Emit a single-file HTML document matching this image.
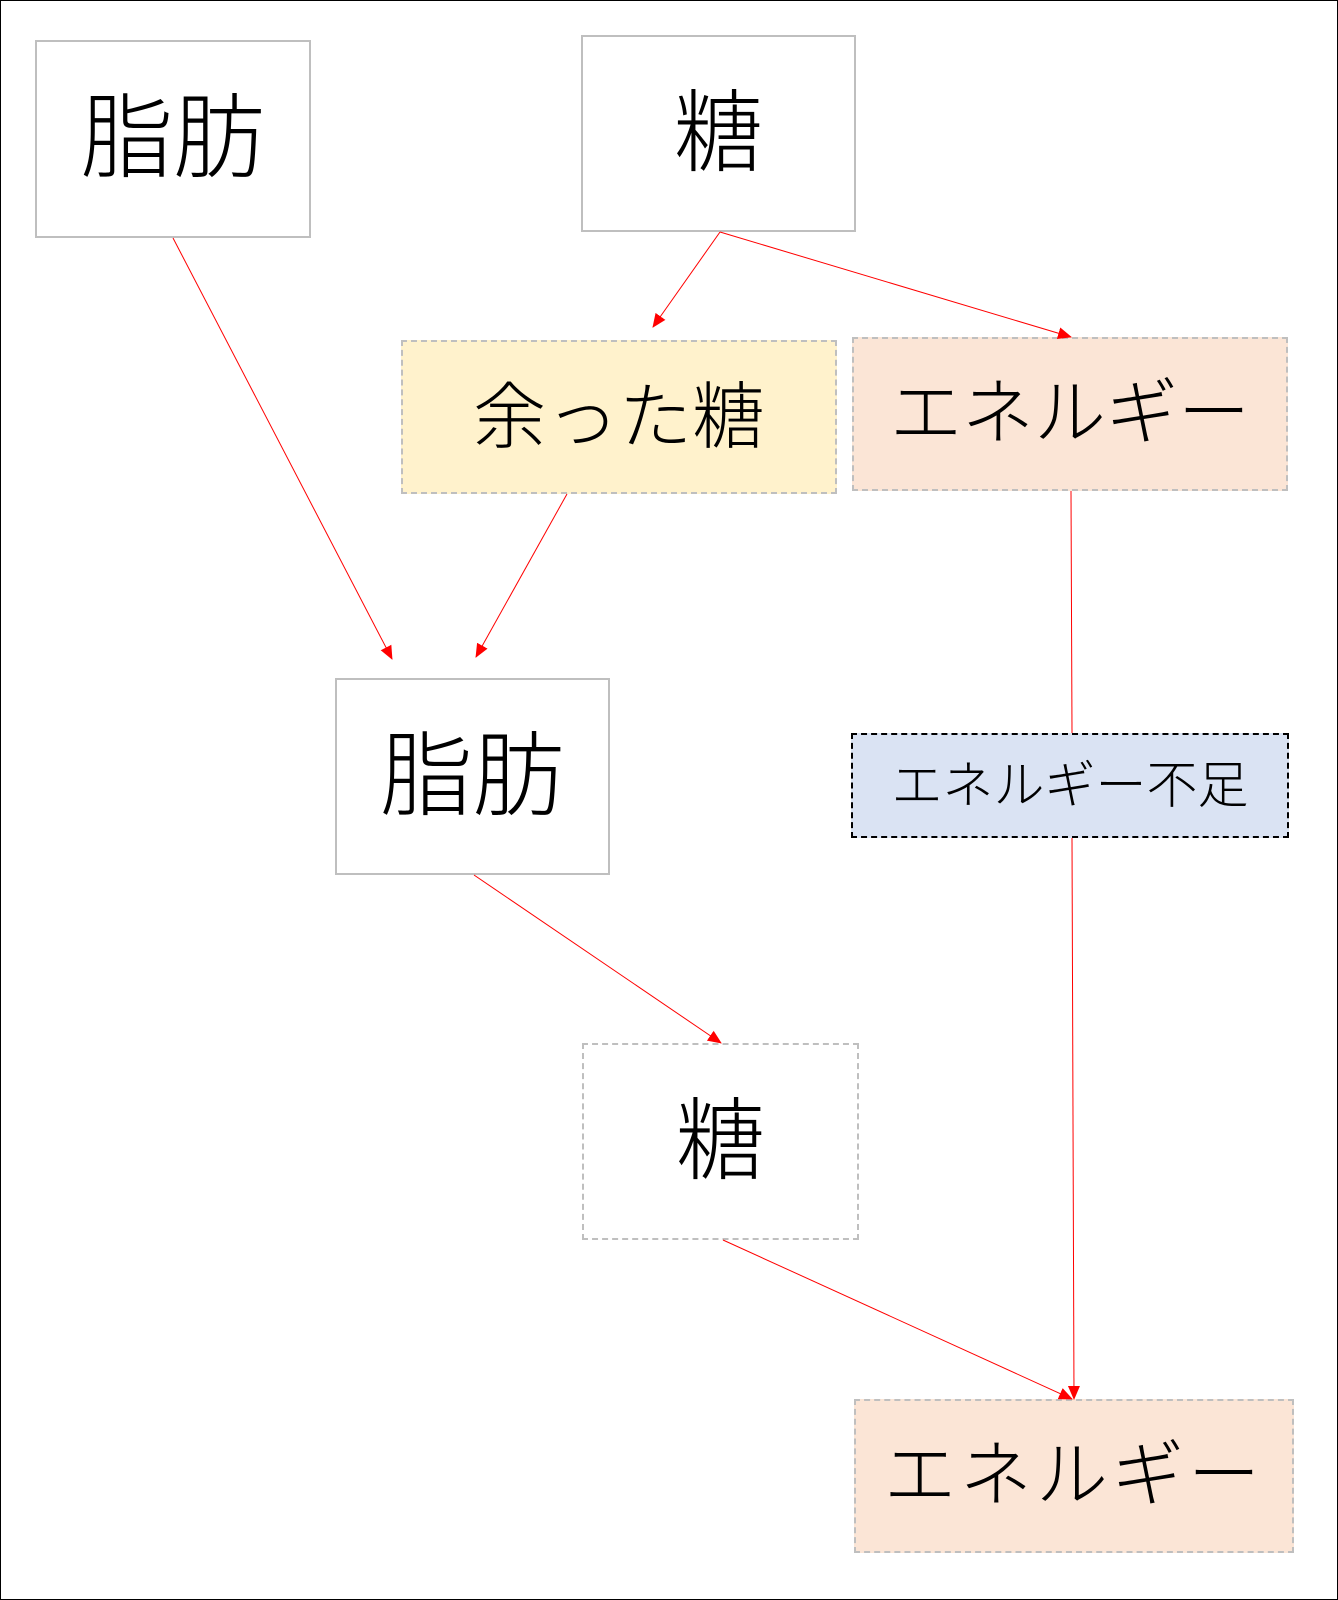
<!DOCTYPE html>
<html><head><meta charset="utf-8"><style>
html,body{margin:0;padding:0;background:#fff;}
body{width:1338px;height:1600px;position:relative;overflow:hidden;font-family:"Liberation Sans","Noto Sans CJK JP",sans-serif;}
.b{position:absolute;box-sizing:border-box;display:flex;align-items:center;justify-content:center;color:#000;line-height:1;font-weight:300;}
.s{border:2px solid #bfbfbf;background:#fff;}
.d{border:2px dashed #bfbfbf;}
</style></head><body>
<div style="position:absolute;left:0;top:0;width:1338px;height:1600px;box-sizing:border-box;border:1px solid #000;"></div>
<div class="b s" style="left:35px;top:40px;width:276px;height:198px;font-size:92px;">脂肪</div>
<div class="b s" style="left:581px;top:35px;width:275px;height:197px;font-size:90px;">糖</div>
<div class="b d" style="left:401px;top:340px;width:436px;height:154px;background:#fff2cc;font-size:73px;">余った糖</div>
<div class="b d" style="left:852px;top:337px;width:436px;height:154px;background:#fbe5d6;font-size:72px;">エネルギー</div>
<div class="b s" style="left:335px;top:678px;width:275px;height:197px;font-size:92px;">脂肪</div>
<div class="b" style="left:851px;top:733px;width:438px;height:105px;background:#dae3f3;border:2px dashed #000;font-size:51px;">エネルギー不足</div>
<div class="b d" style="left:582px;top:1043px;width:277px;height:197px;background:#fff;font-size:90px;">糖</div>
<div class="b d" style="left:854px;top:1399px;width:440px;height:154px;background:#fbe5d6;font-size:72px;letter-spacing:4px;">エネルギー</div>
<svg width="1338" height="1600" style="position:absolute;left:0;top:0;">
<defs><marker id="a" markerWidth="14" markerHeight="14" refX="13" refY="7" orient="auto" markerUnits="userSpaceOnUse"><path d="M0,1 L14,7 L0,13 z" fill="#f00"/></marker></defs>
<g stroke="#f00" stroke-width="1" fill="none">
<line x1="173" y1="238" x2="392" y2="659" marker-end="url(#a)"/>
<line x1="720" y1="232" x2="653" y2="327" marker-end="url(#a)"/>
<line x1="720" y1="232" x2="1071" y2="337" marker-end="url(#a)"/>
<line x1="567" y1="494" x2="476" y2="657" marker-end="url(#a)"/>
<line x1="1071" y1="491" x2="1072" y2="733"/>
<line x1="1072" y1="838" x2="1074" y2="1399" marker-end="url(#a)"/>
<line x1="474" y1="875" x2="721" y2="1043" marker-end="url(#a)"/>
<line x1="723" y1="1240" x2="1072" y2="1399" marker-end="url(#a)"/>
</g></svg>
</body></html>
